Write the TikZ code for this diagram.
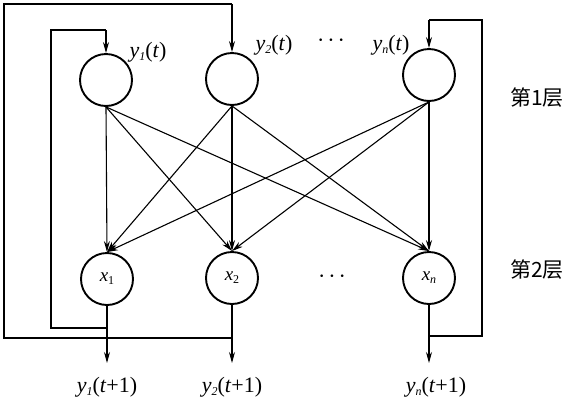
\documentclass[tikz,border=0pt]{standalone}
\usepackage{fontspec}
\setmainfont{Liberation Serif}
\newfontfamily\cjk{Noto Sans CJK SC}
\usetikzlibrary{arrows.meta}
\newcommand\sbs[1]{\raisebox{-0.35ex}{\fontsize{12}{12}\selectfont #1}}
\newcommand\vy[1]{\textit{y}\sbs{\textit{#1}}}
\newcommand\mydots{·\kern3pt·\kern3pt·}
\begin{document}
\begin{tikzpicture}[x=1pt,y=-1pt,
 neuron/.style={circle,draw,line width=1.9pt,minimum size=52pt,inner sep=0pt,font=\fontsize{19}{19}\selectfont},
 conn/.style={line width=1.1pt,-{Stealth[length=11pt,width=6pt]}},
 wire/.style={line width=1.1pt},
 lbl/.style={font=\fontsize{22}{22}\selectfont,inner sep=0pt},
 layer/.style={font=\cjk\fontsize{21}{21}\selectfont,inner sep=0pt}]
\useasboundingbox (0,0) rectangle (566,400);
% neurons
\node[neuron] (y1) at (106,80) {};
\node[neuron] (y2) at (232,79) {};
\node[neuron] (yn) at (429,75) {};
\node[neuron] (x1) at (107,279) {\textit{x}\sbs{1}};
\node[neuron] (x2) at (232,278) {\textit{x}\sbs{2}};
\node[neuron] (xn) at (429,278) {\textit{x}\sbs{\textit{n}}};
% labels
\node[lbl] (ly1) at (148,52) {\vy{1}(\textit{t})};
\node[lbl] (ly2) at (274,45) {\vy{2}(\textit{t})};
\node[lbl] (dtop) at (331,43) {\mydots};
\node[lbl] (lyn) at (391,45) {\vy{n}(\textit{t})};
\node[lbl] (dbot) at (332,279) {\mydots};
\node[layer] (l1) at (537,98) {第1层};
\node[layer] (l2) at (537,270) {第2层};
% outputs
\coordinate (o1) at (107,363);
\coordinate (o2) at (232,363);
\coordinate (on) at (429,363);
\node[lbl] (ny1) at (107,387) {\vy{1}(\textit{t}+1)};
\node[lbl] (ny2) at (232,387) {\vy{2}(\textit{t}+1)};
\node[lbl] (nyn) at (436,387) {\vy{n}(\textit{t}+1)};
\draw[conn] (x1.south) -- (o1);
\draw[conn] (x2.south) -- (o2);
\draw[conn] (xn.south) -- (on);
% cross connections
\foreach \a in {y1,y2,yn}{
  \foreach \b in {x1,x2,xn}{
    \draw[conn] (\a.south) -- (\b.north);
  }
}
% feedback loops
\coordinate (f1a) at (107,328);
\coordinate (f1b) at (51,328);
\coordinate (f1c) at (51,30);
\coordinate (f1d) at (106,30);
\draw[wire] (f1a) -- (f1b) -- (f1c) -- (f1d);
\draw[conn] (f1d) -- (y1.north);
\coordinate (f2a) at (232,338);
\coordinate (f2b) at (4,338);
\coordinate (f2c) at (4,4);
\coordinate (f2d) at (232,4);
\draw[wire] (f2a) -- (f2b) -- (f2c) -- (f2d);
\draw[conn] (f2d) -- (y2.north);
\coordinate (fna) at (429,336);
\coordinate (fnb) at (482,336);
\coordinate (fnc) at (482,20);
\coordinate (fnd) at (429,20);
\draw[wire] (fna) -- (fnb) -- (fnc) -- (fnd);
\draw[conn] (fnd) -- (yn.north);
\end{tikzpicture}
\end{document}
